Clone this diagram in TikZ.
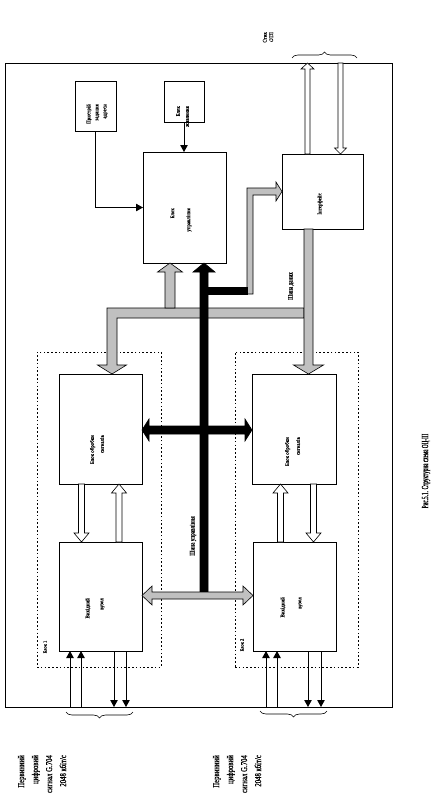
\documentclass[tikz,border=0pt]{standalone}
\usepackage{fontspec}
\setmainfont{Liberation Serif}
\newfontfamily\fa[FakeStretch=0.55,FakeBold=0.8]{Liberation Serif}
\newfontfamily\fb[FakeStretch=0.75,FakeBold=0.8]{Liberation Serif}
\newfontfamily\fc[FakeStretch=0.9,FakeBold=0.8]{Liberation Serif}
\usetikzlibrary{arrows.meta,decorations.pathreplacing}
\definecolor{busgray}{RGB}{192,192,192}
\newcommand\fs[3]{#1\fontsize{#2}{#3}\selectfont}
% vertical block arrow: x, y-tail, y-tip, shaft half width, head half width, head length, style
\newcommand\varrow[7]{\path[#7] ({#1-#4},#2) -- ({#1-#4},{#3+sign(#2-#3)*#6}) -- ({#1-#5},{#3+sign(#2-#3)*#6}) -- (#1,#3) -- ({#1+#5},{#3+sign(#2-#3)*#6}) -- ({#1+#4},{#3+sign(#2-#3)*#6}) -- ({#1+#4},#2) -- cycle;}
% horizontal double-headed block arrow: y, x-left tip, x-right tip, shaft hw, head hw, head length, style
\newcommand\hdarrow[7]{\path[#7] (#2,#1) -- ({#2+#6},{#1-#5}) -- ({#2+#6},{#1-#4}) -- ({#3-#6},{#1-#4}) -- ({#3-#6},{#1-#5}) -- (#3,#1) -- ({#3-#6},{#1+#5}) -- ({#3-#6},{#1+#4}) -- ({#2+#6},{#1+#4}) -- ({#2+#6},{#1+#5}) -- cycle;}
\begin{document}
\begin{tikzpicture}[x=1pt,y=-1pt,
  box/.style={draw,line width=0.8pt,inner sep=0pt,outer sep=0pt},
  dotbox/.style={draw,line width=0.8pt,dash pattern=on 1.6pt off 2.2pt,inner sep=0pt,outer sep=0pt},
  lbl/.style={rotate=90,inner sep=0pt,align=right,anchor=east},
  thinarr/.style={line width=0.8pt,-{Triangle[length=7pt,width=7.5pt]}},
  graybar/.style={draw=black,line width=0.6pt,fill=busgray},
  blackbar/.style={draw=black,line width=0.6pt,fill=black},
  hollow/.style={draw=black,line width=0.6pt,fill=white},
  bracedeco/.style={line width=0.6pt,decorate,decoration={brace,amplitude=6pt}}]
\useasboundingbox (0,0) rectangle (436,800);

% frame and dotted groups
\node[box,minimum width=387,minimum height=644] (frame) at (198.5,385) {};
\node[dotbox,minimum width=124,minimum height=315] (grp1) at (99,509.5) {};
\node[dotbox,minimum width=123,minimum height=315] (grp2) at (296.5,509.5) {};

% blocks
\node[box,minimum width=41,minimum height=50] (addr) at (95.5,106) {};
\node[box,minimum width=40,minimum height=41] (pwr) at (184,101.5) {};
\node[box,minimum width=83,minimum height=111] (ctrl) at (184.5,207.5) {};
\node[box,minimum width=81,minimum height=75] (intf) at (322.5,191.5) {};
\node[box,minimum width=83,minimum height=110] (proc1) at (100.5,429) {};
\node[box,minimum width=84,minimum height=110] (proc2) at (294,429) {};
\node[box,minimum width=83,minimum height=109] (out1) at (100.5,596.5) {};
\node[box,minimum width=83,minimum height=109] (out2) at (294.5,596.5) {};

% thin connectors
\draw[thinarr] (addr.south) |- (ctrl.west);
\draw[thinarr] (pwr.south) -- (ctrl.north -| pwr.south);
\foreach \x in {70,81,266,277} \draw[thinarr] (\x,707) -- (\x,651);
\foreach \x in {114,126,308,321} \draw[thinarr] (\x,651) -- (\x,707);

% gray data bus
\path[graybar] (304,308) -- (107,308) -- (107,365) -- (97.5,365) -- (112,374) -- (126.5,365) -- (117,365) -- (117,318) -- (304,318) -- cycle;
\varrow{308.5}{229}{374}{4.5}{15}{9}{graybar}
\varrow{170}{308}{263}{5}{12.5}{9}{graybar}
\path[graybar] (247,294) -- (247,188) -- (276,188) -- (276,182) -- (282,191.5) -- (276,201) -- (276,195) -- (253,195) -- (253,294) -- cycle;

% black control bus
\varrow{204}{592}{263}{4}{11}{9}{blackbar}
\path[blackbar] (204,287) rectangle (247,294);
\hdarrow{430}{142}{252}{4}{11}{7}{blackbar}
\hdarrow{595.5}{142}{253}{3.5}{9.5}{10}{graybar}

% hollow arrows
\varrow{81.5}{484}{542}{3}{7.5}{9}{hollow}
\varrow{119}{542}{484}{3}{7.5}{9}{hollow}
\varrow{280.5}{542}{484}{3}{7.5}{9}{hollow}
\varrow{313.5}{484}{542}{3}{7.5}{9}{hollow}
\varrow{307.5}{154}{63}{2.5}{6.5}{6}{hollow}
\varrow{340.5}{63}{154}{2.5}{6}{6}{hollow}

% braces
\draw[bracedeco] (292,58) -- (357,58);
\draw[bracedeco] (133,712) -- (66,712);
\draw[bracedeco] (327,711) -- (260,711);

% labels
\node[lbl,font=\fs\fc{5.5}{8}] (addrt) at (97,104) {Пристрій\\задання\\адреси};
\node[lbl,font=\fs\fc{5.5}{9}] (pwrt) at (182.5,106) {Блок\\живлення};
\node[lbl,font=\fs\fc{5.5}{16}] (ctrlt) at (181,208) {Блок\\управління};
\node[lbl,font=\fs\fc{5.5}{7}] (intft) at (320,193) {Інтерфейс};
\node[lbl,font=\fs\fc{5.5}{10}] (p1t) at (97,435) {Блок обробки\\сигналів};
\node[lbl,font=\fs\fc{5.5}{11}] (p2t) at (292.5,437) {Блок обробки\\сигналів};
\node[lbl,font=\fs\fc{5.5}{14}] (o1t) at (95,598) {Вихідний\\вузол};
\node[lbl,font=\fs\fc{5.5}{17}] (o2t) at (291.5,597) {Вихідний\\вузол};
\node[lbl,font=\fs\fb{7}{8}] (busd) at (291,272) {Шина даних};
\node[lbl,anchor=west,font=\fs\fb{7}{8}] (busc) at (193,556) {Шина управління};
\node[lbl,anchor=center,font=\fs\fc{5}{6}] (g1t) at (45,647) {Блок 1};
\node[lbl,anchor=center,font=\fs\fc{5}{6}] (g2t) at (242,645) {Блок 2};
\node[lbl,font=\fs\fc{5.5}{6.5}] (stik) at (268,32) {Стик\\ОТЛ};
\node[lbl,font=\fs\fb{9}{14}] (in1) at (42,755) {Первинний\\цифровий\\сигнал G.704\\2048 кбіт/с};
\node[lbl,font=\fs\fb{9}{14}] (in2) at (237,755) {Первинний\\цифровий\\сигнал G.704\\2048 кбіт/с};
\node[lbl,anchor=center,font=\fs\fa{9.5}{11}] (cap) at (426,471) {Рис.5.1. Структурна схема ОЦ-ІІІ};
\end{tikzpicture}
\end{document}
